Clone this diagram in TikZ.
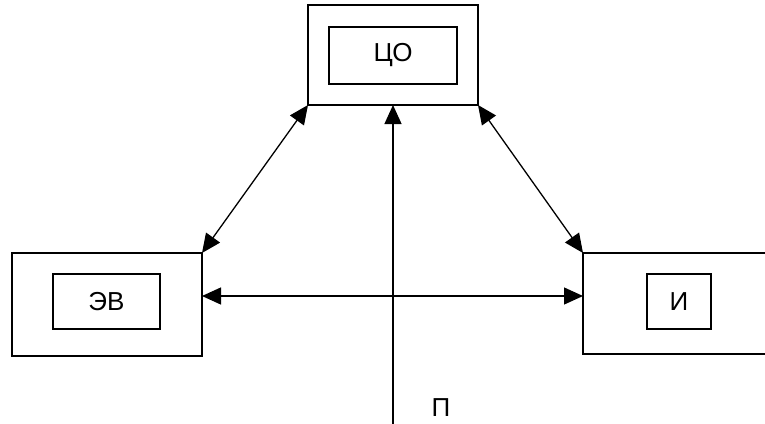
\documentclass[tikz,border=0pt]{standalone}
\usepackage{fontspec}
\setmainfont{Liberation Sans}
\usetikzlibrary{arrows.meta}
\begin{document}
\begin{tikzpicture}[x=1pt,y=-1pt,
  outerbox/.style={draw,line width=1.4pt,minimum width=#1,inner sep=0pt,outer sep=0pt},
  innerbox/.style={draw,line width=1.4pt,inner sep=0pt,outer sep=0pt,font=\fontsize{26}{30}\selectfont},
  conn/.style={line width=1.3pt,{Triangle[length=19pt,width=17pt]}-{Triangle[length=19pt,width=17pt]}},
  oneway/.style={line width=1.3pt,-{Triangle[length=19pt,width=17pt]}},
  lbl/.style={font=\fontsize{26}{30}\selectfont,inner sep=0pt}]
\useasboundingbox (0,0) rectangle (765,423);
\clip (0,0) rectangle (765,423);
% top box
\node[outerbox=170pt,minimum height=100pt] (co) at (393,55) {};
\node[innerbox,minimum width=128pt,minimum height=57pt] (coin) at (393,55.5) {ЦО};
% left box
\node[outerbox=190pt,minimum height=103pt] (ev) at (107,304.5) {};
\node[innerbox,minimum width=107pt,minimum height=55pt] (evin) at (106.5,301.5) {ЭВ};
% right box (right edge outside the picture)
\node[outerbox=200pt,minimum height=101pt,anchor=west] (i) at (583,303.5) {};
\node[innerbox,minimum width=64pt,minimum height=55pt] (iin) at (679,301.5) {И};
% connectors
\draw[conn] (co.south west) -- (ev.north east);
\draw[conn] (co.south east) -- (i.north west);
\coordinate (evr) at (ev.east |- 0,296);
\coordinate (il) at (i.west |- 0,296);
\draw[conn] (evr) -- (il);
\coordinate (pin) at (393,430);
\draw[oneway] (pin) -- (co.south);
\node[lbl,anchor=base] (p) at (441,416) {П};
\end{tikzpicture}
\end{document}
